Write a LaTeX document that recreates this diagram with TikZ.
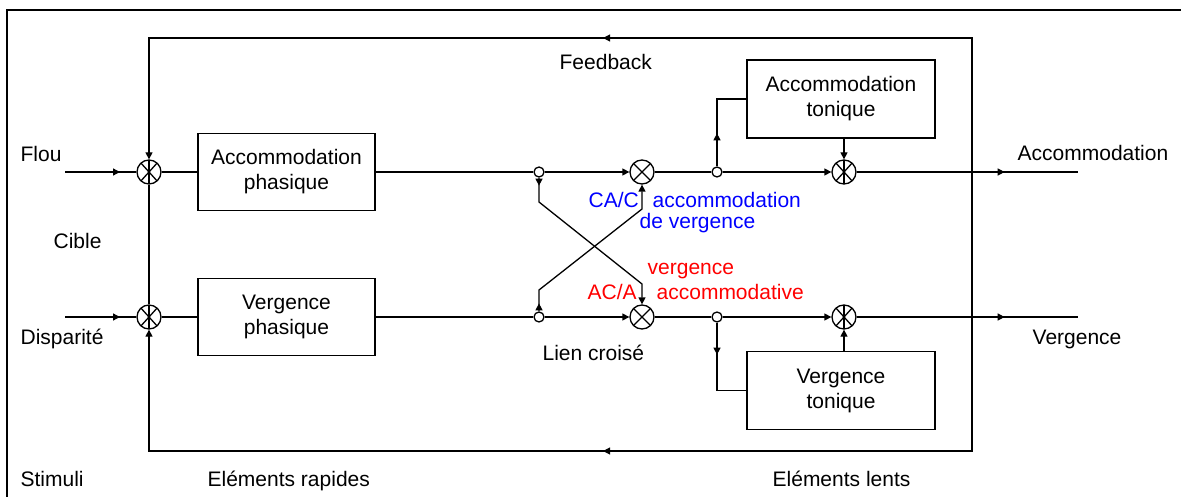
\documentclass[tikz,border=0pt]{standalone}
\usepackage{fontspec}
\setmainfont{Liberation Sans}
\usetikzlibrary{arrows.meta, decorations.markings, calc}
\tikzset{
  tip/.tip={Triangle[length=7pt, width=7pt]},
  blk/.style={
    rectangle, draw, fill=white,
    minimum width=177pt, minimum height=77pt,
    align=center, inner sep=0pt
  },
  tblk/.style={blk, minimum width=188pt, minimum height=78pt},
  sumstar/.style={
    circle, draw, fill=white, minimum size=24pt, inner sep=0pt,
    path picture={
      \draw (path picture bounding box.north) -- (path picture bounding box.south);
      \foreach \a in {48,132,228,312}
        \draw (path picture bounding box.center) -- ++(\a:12pt);
    }
  },
  sumcross/.style={
    circle, draw, fill=white, minimum size=24pt, inner sep=0pt,
    path picture={
      \foreach \a in {45,135,225,315}
        \draw (path picture bounding box.center) -- ++(\a:12pt);
    }
  },
  pick/.style={circle, draw, fill=white, minimum size=10pt, inner sep=0pt},
  arr/.style={-tip},
  midarr/.style={postaction={decorate},
    decoration={markings, mark=at position #1 with {\arrow{tip}}}},
  lbl/.style={anchor=base west, inner sep=0pt},
  blue lbl/.style={lbl, text=blue},
  red lbl/.style={lbl, text=red}
}

\begin{document}
\begin{tikzpicture}[x=1pt, y=-1pt, line width=1.3pt,
  every node/.style={font=\fontsize{21}{25}\selectfont}]

  \useasboundingbox (0,0) rectangle (1181,497);
  \begin{scope}
    \clip (0,0) rectangle (1181,497);
    \draw (7,520) -- (7,10) -- (1200,10);
  \end{scope}

  % junctions and blocks
  \node[sumstar] (sumA)  at (149,172) {};
  \node[sumstar] (sumV)  at (149,317) {};
  \node[blk]     (accP)  at (286.5,172) {Accommodation\\phasique};
  \node[blk]     (vergP) at (286.5,317) {Vergence\\phasique};
  \node[pick]    (pickA1) at (539,172) {};
  \node[pick]    (pickV1) at (539,317) {};
  \node[sumcross] (crossA) at (642,172) {};
  \node[sumcross] (crossV) at (642,317) {};
  \node[pick]    (pickA2) at (717,172) {};
  \node[pick]    (pickV2) at (717,317) {};
  \node[tblk]    (accT)  at (841,99)  {Accommodation\\tonique};
  \node[tblk]    (vergT) at (841,390.5) {Vergence\\tonique};
  \node[sumstar] (sumAT) at (844,172) {};
  \node[sumstar] (sumVT) at (844,317) {};

  \coordinate (inA)  at (65,172);
  \coordinate (inV)  at (65,317);
  \coordinate (outA) at (1078,172);
  \coordinate (outV) at (1078,317);
  \coordinate (fbNW) at (149,38);
  \coordinate (fbNE) at (972,38);
  \coordinate (fbSE) at (972,451);
  \coordinate (fbSW) at (149,451);
  \coordinate (xA1) at (539,202);
  \coordinate (xA2) at (642,284);
  \coordinate (xV1) at (539,290);
  \coordinate (xV2) at (642,209);

  % accommodation path
  \draw[midarr=55pt] (inA) -- (sumA);
  \draw (sumA) -- (accP);
  \draw (accP) -- (pickA1);
  \draw[arr] (pickA1) -- (crossA);
  \draw (crossA) -- (pickA2);
  \draw[arr] (pickA2) -- (sumAT);
  \draw[midarr=148pt] (sumAT) -- (outA);
  \draw[midarr=33pt] (pickA2) |- (accT.west);
  \draw[arr] (accT.south -| sumAT) -- (sumAT);

  % vergence path
  \draw[midarr=55pt] (inV) -- (sumV);
  \draw (sumV) -- (vergP);
  \draw (vergP) -- (pickV1);
  \draw[arr] (pickV1) -- (crossV);
  \draw (crossV) -- (pickV2);
  \draw[arr] (pickV2) -- (sumVT);
  \draw[midarr=148pt] (sumVT) -- (outV);
  \draw[midarr=32pt] (pickV2) |- (vergT.west);
  \draw[arr] (vergT.north -| sumVT) -- (sumVT);

  % cross links
  \draw[arr, midarr=8pt] (pickA1) -- (xA1) -- (xA2) -- (crossV);
  \draw[arr, midarr=8pt] (pickV1) -- (xV1) -- (xV2) -- (crossA);

  % feedback loop
  \draw[tip-tip, postaction={decorate}, decoration={markings,
      mark=at position 0.25 with {\arrowreversed{tip}},
      mark=at position 0.75 with {\arrow{tip}}}]
    (sumV) -- (fbSW) -- (fbSE) -- (fbNE) -- (fbNW) -- (sumA);
  \draw (sumA) -- (sumV);

  % labels
  \node[lbl] (flou)    at (20,162)  {Flou};
  \node[lbl] (cible)   at (53,249)  {Cible};
  \node[lbl] (disp)    at (20,344)  {Disparité};
  \node[lbl] (stim)    at (20,486)  {Stimuli};
  \node[lbl] (rapides) at (207,486) {Eléments rapides};
  \node[lbl] (lents)   at (772,486) {Eléments lents};
  \node[lbl] (feedb)   at (559,70)  {Feedback};
  \node[lbl] (outAlbl) at (1017,161) {Accommodation};
  \node[lbl] (outVlbl) at (1032,344) {Vergence};
  \node[lbl] (lien)    at (542,360) {Lien croisé};
  \node[blue lbl] (cac)    at (588,208) {CA/C};
  \node[blue lbl] (cacA)   at (652,208) {accommodation};
  \node[blue lbl] (cacB)   at (639,229) {de vergence};
  \node[red lbl]  (acaA)   at (647,275) {vergence};
  \node[red lbl]  (aca)    at (587,299) {AC/A};
  \node[red lbl]  (acaB)   at (656,299) {accommodative};

\end{tikzpicture}
\end{document}
